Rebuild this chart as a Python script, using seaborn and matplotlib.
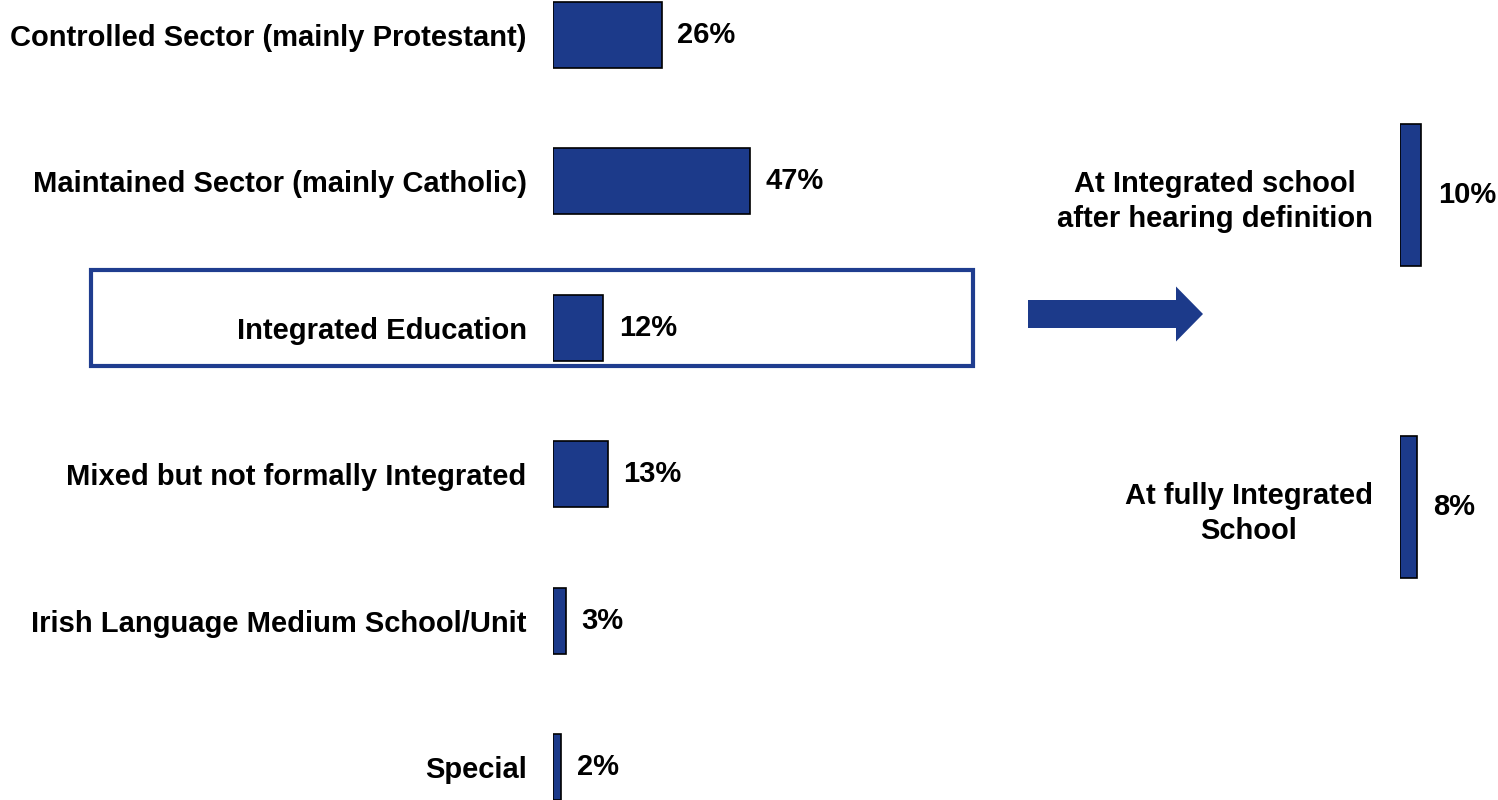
import matplotlib
matplotlib.use('Agg')
import matplotlib.pyplot as plt
import matplotlib.patches as mpatches
import seaborn as sns
import pandas as pd

# school type shares (left) and integrated follow-up (right)
sectors = ['Controlled Sector (mainly Protestant)',
           'Maintained Sector (mainly Catholic)',
           'Integrated Education',
           'Mixed but not formally Integrated',
           'Irish Language Medium School/Unit',
           'Special']
sector_pct = [26, 47, 12, 13, 3, 2]

integ_labels = ['At Integrated school\nafter hearing definition',
                'At fully Integrated\nSchool']
integ_pct = [10, 8]

navy = '#1c3a8a'
fs = 21

sns.set_style('white')
plt.rcParams['font.family'] = ['Liberation Sans', 'DejaVu Sans']
plt.rcParams['font.weight'] = 'bold'
plt.rcParams['text.color'] = 'black'
plt.rcParams['ytick.color'] = 'black'
plt.rcParams['ytick.labelcolor'] = 'black'

fig = plt.figure(figsize=(14.98, 8), dpi=100)

left_df = pd.DataFrame({'sector': sectors, 'pct': sector_pct})
right_df = pd.DataFrame({'label': integ_labels, 'pct': integ_pct})

# left chart
ax1 = fig.add_axes([553 / 1498, 0, 80 * 4.2 / 1498, 1])
sns.barplot(data=left_df, x='pct', y='sector', orient='h', color=navy,
            saturation=1, width=0.45, edgecolor='black', linewidth=1.2, ax=ax1)
ax1.set_xlim(0, 80)
ax1.set_ylim(5.225, -0.239)
for c in ax1.containers:
    ax1.bar_label(c, labels=[f'{v}%' for v in sector_pct], padding=11,
                  fontsize=fs, fontweight='bold', color='black')

# right chart
ax2 = fig.add_axes([1400 / 1498, 0, 20 * 2.1 / 1498, 1])
sns.barplot(data=right_df, x='pct', y='label', orient='h', color=navy,
            saturation=1, width=0.455, edgecolor='black', linewidth=1.2, ax=ax2)
ax2.set_xlim(0, 20)
ax2.set_ylim(1.939, -0.625)
for c in ax2.containers:
    ax2.bar_label(c, labels=[f'{v}%' for v in integ_pct], padding=12,
                  fontsize=fs, fontweight='bold', color='black')

ax1.set_yticks(range(len(sectors)), sectors, fontsize=fs, fontweight='bold',
               color='black')
ax2.set_yticks(range(len(integ_labels)), integ_labels, fontsize=fs,
               fontweight='bold', color='black', multialignment='center',
               linespacing=1.3)

for ax, pad in [(ax1, 19), (ax2, 19.5)]:
    ax.set_xlabel('')
    ax.set_ylabel('')
    ax.set_xticks([])
    ax.tick_params(axis='y', length=0, pad=pad)
    sns.despine(ax=ax, left=True, bottom=True)
    ax.patch.set_alpha(0)

# highlight box around Integrated Education and arrow to the right chart
box = mpatches.Rectangle((91 / 1498, 1 - 366 / 800), 882 / 1498, 96 / 800,
                         transform=fig.transFigure, fill=False,
                         edgecolor='#1f3d8f', linewidth=3)
fig.patches.append(box)

arrow = mpatches.FancyArrow(1028 / 1498, 1 - 314 / 800, 175 / 1498, 0,
                            width=28 / 800, head_width=55 / 800,
                            head_length=27 / 1498, length_includes_head=True,
                            transform=fig.transFigure, color=navy, linewidth=0)
fig.patches.append(arrow)

fig.savefig('out.png', dpi=100)
